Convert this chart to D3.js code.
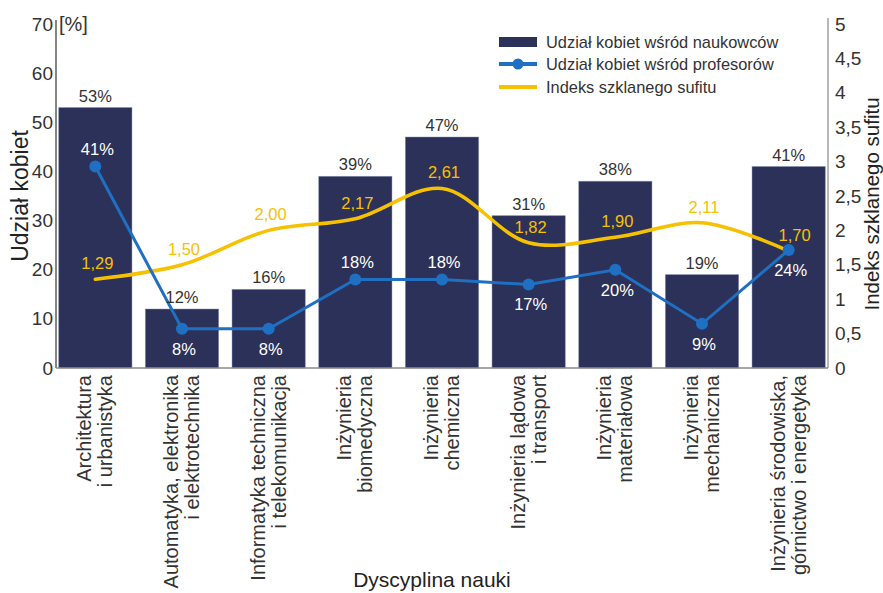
<!DOCTYPE html>
<html lang="pl">
<head>
<meta charset="utf-8">
<script src="https://cdn.jsdelivr.net/npm/d3@7"></script>
<style>
  html, body { margin: 0; padding: 0; background: #fff; }
  svg { display: block; font-family: "Liberation Sans", Arial, sans-serif; }
</style>
</head>
<body>
<svg id="chart" width="883" height="593"></svg>
<script>
// Dyscypliny naukowe (etykiety dwuwierszowe)
const categories = [
  ["Architektura", "i urbanistyka"],
  ["Automatyka, elektronika", "i elektrotechnika"],
  ["Informatyka techniczna", "i telekomunikacja"],
  ["Inżynieria", "biomedyczna"],
  ["Inżynieria", "chemiczna"],
  ["Inżynieria lądowa", "i transport"],
  ["Inżynieria", "materiałowa"],
  ["Inżynieria", "mechaniczna"],
  ["Inżynieria środowiska,", "górnictwo i energetyka"]
];

// Udział kobiet wśród naukowców [%]
const researchersShare = [53, 12, 16, 39, 47, 31, 38, 19, 41];
// Udział kobiet wśród profesorów [%]
const professorsShare = [41, 8, 8, 18, 18, 17, 20, 9, 24];
// Indeks szklanego sufitu
const glassCeiling = [1.29, 1.50, 2.00, 2.17, 2.61, 1.82, 1.90, 2.11, 1.70];

// Podziałki osi
const leftTicks = [0, 10, 20, 30, 40, 50, 60, 70];
const rightTicks = [0, 0.5, 1, 1.5, 2, 2.5, 3, 3.5, 4, 4.5, 5];

const legendLabels = [
  "Udział kobiet wśród naukowców",
  "Udział kobiet wśród profesorów",
  "Indeks szklanego sufitu"
];

// Strona, po której stoi podpis punktu linii profesorów
const professorLabelSide = ["above", "below", "below", "above", "above", "below", "below", "below", "below"];

const COLORS = {
  bar: "#2c3159",
  barEdge: "#7d86ab",
  prof: "#1f70c2",
  ceiling: "#f6c100",
  text: "#333333",
  axis: "#333333",
  axisLight: "#8a8a8a"
};

const pl = d3.formatLocale({ decimal: ",", thousands: " ", grouping: [3], currency: ["", " zł"] });
const fmtIndex = pl.format(".2f");
const fmtTick = pl.format("~g");

const svg = d3.select("#chart");

const x = d3.scaleBand()
  .domain(d3.range(categories.length))
  .range([52, 832])
  .paddingInner(0.155)
  .paddingOuter(0.0775);

const yLeft = d3.scaleLinear().domain([0, 70]).range([368, 24]);
const yRight = d3.scaleLinear().domain([0, 5]).range([368, 24]);

const cx = i => x(i) + x.bandwidth() / 2;

// Słupki
svg.append("g")
  .selectAll("rect")
  .data(researchersShare)
  .join("rect")
  .attr("x", (d, i) => x(i))
  .attr("y", d => yLeft(d))
  .attr("width", x.bandwidth())
  .attr("height", d => yLeft(0) - yLeft(d))
  .attr("fill", COLORS.bar)
  .attr("stroke", COLORS.barEdge)
  .attr("stroke-opacity", 0.55)
  .attr("stroke-width", 0.8);

// Oś lewa
const leftAxis = svg.append("g")
  .attr("transform", "translate(56,0)")
  .call(d3.axisLeft(yLeft).tickValues(leftTicks).tickSize(0).tickPadding(3).tickFormat(d3.format("d")));
leftAxis.select(".domain").attr("stroke", COLORS.axis).attr("stroke-width", 1.2)
  .attr("d", `M0,${yLeft(70) - 4}V${yLeft(0)}`);
leftAxis.selectAll("text")
  .attr("fill", COLORS.text)
  .style("font-size", "19px")
  .style("font-family", "Liberation Sans, Arial, sans-serif");

svg.append("text")
  .attr("x", 59)
  .attr("y", yLeft(70))
  .attr("dy", "0.35em")
  .attr("fill", COLORS.text)
  .style("font-size", "20px")
  .text("[%]");

// Oś prawa
const rightAxis = svg.append("g")
  .attr("transform", "translate(828,0)")
  .call(d3.axisRight(yRight).tickValues(rightTicks).tickSize(0).tickPadding(7).tickFormat(fmtTick));
rightAxis.select(".domain").attr("stroke", COLORS.axisLight).attr("stroke-width", 1.2)
  .attr("d", `M0,${yRight(5) - 6}V${yRight(0)}`);
rightAxis.selectAll("text")
  .attr("fill", COLORS.text)
  .style("font-size", "19px")
  .style("font-family", "Liberation Sans, Arial, sans-serif");

// Oś pozioma
const bottomAxis = svg.append("g")
  .attr("transform", `translate(0,${yLeft(0)})`)
  .call(d3.axisBottom(x).tickSize(0).tickFormat(""));
bottomAxis.select(".domain").attr("stroke", COLORS.axisLight).attr("stroke-width", 1.5)
  .attr("d", "M56,0H828");

// Podpisy kategorii (obrócone, dwuwierszowe)
const catG = svg.append("g");
categories.forEach((lines, i) => {
  const t = catG.append("text")
    .attr("transform", `translate(${cx(i)},${yLeft(0) + 7}) rotate(-90)`)
    .attr("text-anchor", "end")
    .attr("fill", COLORS.text)
    .style("font-size", "20px");
  lines.forEach((line, k) => {
    t.append("tspan")
      .attr("x", 0)
      .attr("y", k === 0 ? -4 : 17)
      .text(line);
  });
});

// Tytuły osi
svg.append("text")
  .attr("transform", `translate(28,196) rotate(-90)`)
  .attr("text-anchor", "middle")
  .attr("fill", "#222")
  .style("font-size", "23px")
  .text("Udział kobiet");

svg.append("text")
  .attr("transform", `translate(879,204) rotate(-90)`)
  .attr("text-anchor", "middle")
  .attr("fill", "#222")
  .style("font-size", "20.5px")
  .text("Indeks szklanego sufitu");

svg.append("text")
  .attr("x", 432)
  .attr("y", 587)
  .attr("text-anchor", "middle")
  .attr("fill", "#222")
  .style("font-size", "21px")
  .text("Dyscyplina nauki");

// Linia indeksu szklanego sufitu (wygładzona)
const ceilingLine = d3.line()
  .x((d, i) => cx(i))
  .y(d => yRight(d))
  .curve(d3.curveCatmullRom.alpha(0.5));

svg.append("path")
  .datum(glassCeiling)
  .attr("d", ceilingLine)
  .attr("fill", "none")
  .attr("stroke", COLORS.ceiling)
  .attr("stroke-width", 3.5)
  .attr("stroke-linecap", "round");

// Linia udziału profesorek
const profLine = d3.line()
  .x((d, i) => cx(i))
  .y(d => yLeft(d));

svg.append("path")
  .datum(professorsShare)
  .attr("d", profLine)
  .attr("fill", "none")
  .attr("stroke", COLORS.prof)
  .attr("stroke-width", 3);

svg.append("g")
  .selectAll("circle")
  .data(professorsShare)
  .join("circle")
  .attr("cx", (d, i) => cx(i))
  .attr("cy", d => yLeft(d))
  .attr("r", 6)
  .attr("fill", COLORS.prof);

// Etykiety wartości słupków
svg.append("g")
  .selectAll("text")
  .data(researchersShare)
  .join("text")
  .attr("x", (d, i) => cx(i))
  .attr("y", d => yLeft(d) - 6)
  .attr("text-anchor", "middle")
  .attr("fill", COLORS.text)
  .style("font-size", "16.5px")
  .text(d => `${d}%`);

// Etykiety indeksu
svg.append("g")
  .selectAll("text")
  .data(glassCeiling)
  .join("text")
  .attr("x", (d, i) => cx(i) + (i === glassCeiling.length - 1 ? 6 : 2))
  .attr("y", d => yRight(d) - 10)
  .attr("text-anchor", "middle")
  .attr("fill", COLORS.ceiling)
  .style("font-size", "16.5px")
  .text(d => fmtIndex(d));

// Etykiety udziału profesorek
svg.append("g")
  .selectAll("text")
  .data(professorsShare)
  .join("text")
  .attr("x", (d, i) => cx(i) + 2)
  .attr("y", (d, i) => professorLabelSide[i] === "above" ? yLeft(d) - 12 : yLeft(d) + 26)
  .attr("text-anchor", "middle")
  .attr("fill", "#ffffff")
  .style("font-size", "16.5px")
  .text(d => `${d}%`);

// Legenda
const legend = svg.append("g").attr("transform", "translate(499,0)");
const rowY = [42, 64, 87];

legend.append("rect")
  .attr("x", 0).attr("y", rowY[0] - 5)
  .attr("width", 38).attr("height", 10)
  .attr("fill", COLORS.bar);

legend.append("line")
  .attr("x1", 0).attr("x2", 38)
  .attr("y1", rowY[1]).attr("y2", rowY[1])
  .attr("stroke", COLORS.prof).attr("stroke-width", 4);
legend.append("circle")
  .attr("cx", 19).attr("cy", rowY[1]).attr("r", 5.5)
  .attr("fill", COLORS.prof);

legend.append("line")
  .attr("x1", 0).attr("x2", 38)
  .attr("y1", rowY[2]).attr("y2", rowY[2])
  .attr("stroke", COLORS.ceiling).attr("stroke-width", 4);

legend.selectAll("text.lg")
  .data(legendLabels)
  .join("text")
  .attr("class", "lg")
  .attr("x", 47)
  .attr("y", (d, i) => rowY[i])
  .attr("dy", "0.35em")
  .attr("fill", COLORS.text)
  .style("font-size", "16.4px")
  .text(d => d);
</script>
</body>
</html>
